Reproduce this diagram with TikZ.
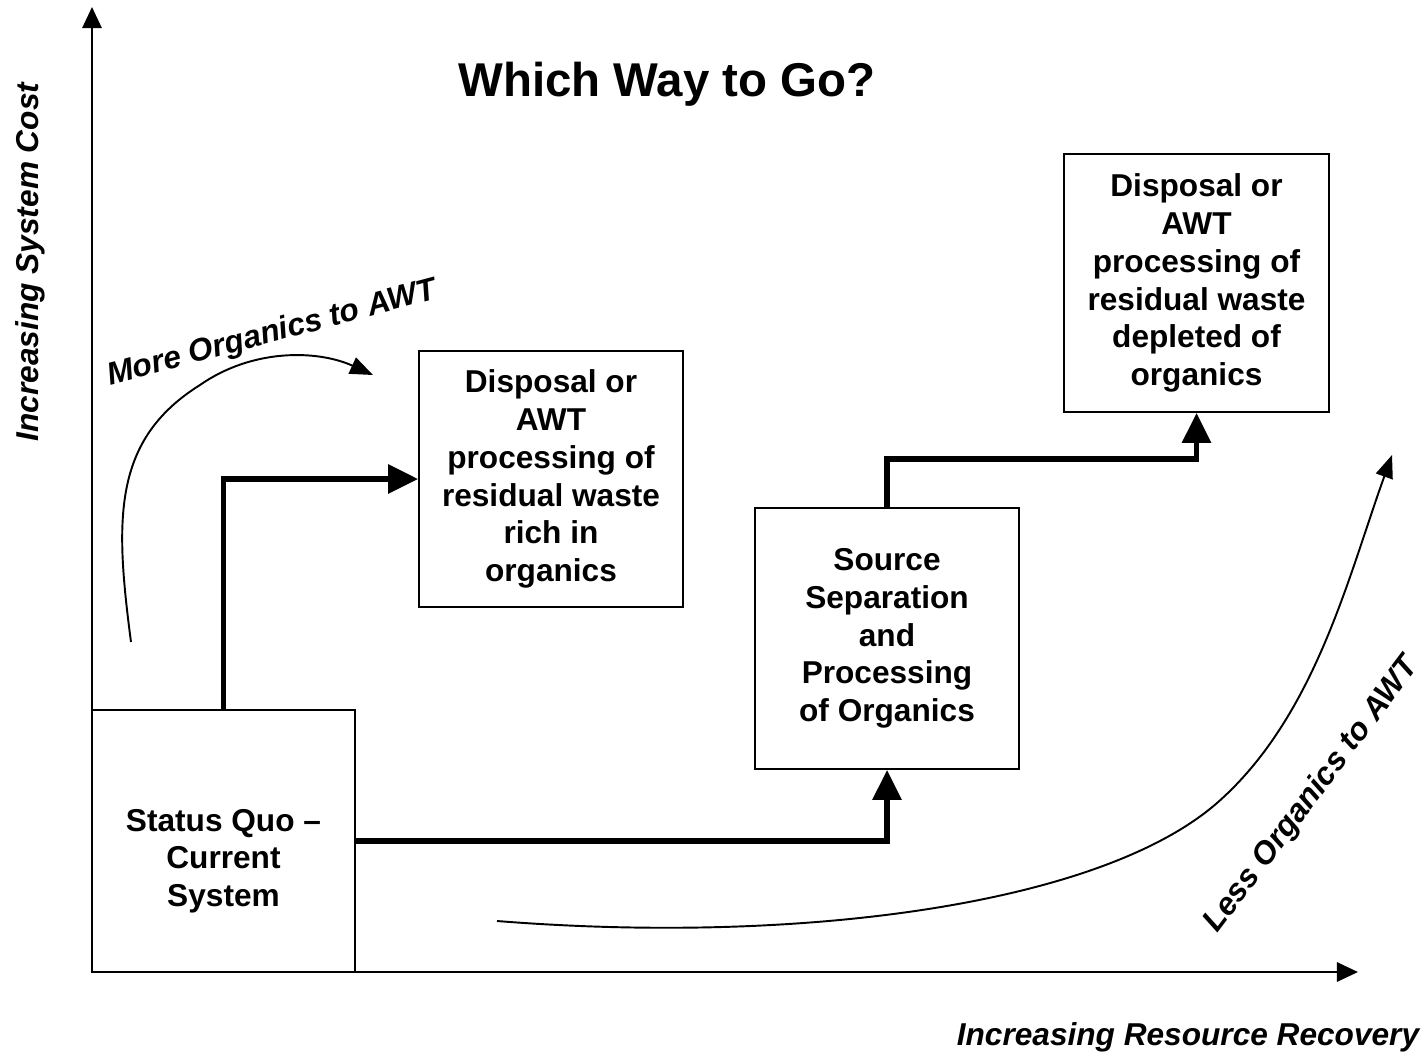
\documentclass[tikz,border=0pt]{standalone}
\usepackage{fontspec}
\setmainfont{Liberation Sans}
\usepackage{tikz}
\usetikzlibrary{arrows.meta}

\begin{document}
\begin{tikzpicture}[x=0.02cm, y=-0.02cm,
    box/.style={draw, line width=1.1pt, align=center, inner sep=0pt,
        font=\fontsize{18}{21.5}\selectfont\bfseries},
    flow/.style={line width=3pt, -{Triangle[length=17pt,width=16pt]}},
    axis/.style={line width=1.1pt, -{Triangle[length=12pt,width=11pt]}},
    trend/.style={line width=1.1pt, -{Triangle[length=13pt,width=10pt]}},
    note/.style={font=\fontsize{18}{21.5}\selectfont\bfseries\itshape}]
    \useasboundingbox (0,0) rectangle (1425,1055);

    % Axes
    \coordinate (origin) at (92,972);
    \coordinate (ytip) at (92,7);
    \coordinate (xtip) at (1358,972);
    \draw[axis] (origin) -- (ytip);
    \draw[axis] (origin) -- (xtip);
    \node[note, rotate=90] (costlabel) at (30,262) {Increasing System Cost};
    \node[note] (recoverylabel) at (1188,1037) {Increasing Resource Recovery};

    % Title
    \node[font=\fontsize{27}{32}\selectfont\bfseries] (title) at (667,84) {Which Way to Go?};

    % Boxes
    \node[box, minimum width=5.26cm, minimum height=5.24cm,
        label={[align=center, font=\fontsize{18}{21.5}\selectfont\bfseries, yshift=-11.5pt]center:Status Quo --\\Current\\System}]
        (quo) at (223.5,841) {};
    \node[box, minimum width=5.28cm, minimum height=5.12cm] (rich) at (551,479)
        {Disposal or\\AWT\\processing of\\residual waste\\rich in\\organics};
    \node[box, minimum width=5.28cm, minimum height=5.22cm] (src) at (887,638.5)
        {Source\\Separation\\and\\Processing\\of Organics};
    \node[box, minimum width=5.3cm, minimum height=5.16cm] (depl) at (1196.5,283)
        {Disposal or\\AWT\\processing of\\residual waste\\depleted of\\organics};

    % Routes
    \draw[flow] (quo.north) |- (rich.west);
    \draw[flow] (quo.east) -| (src.south);
    \draw[flow] (src.north) -- ++(0,-48) -| (depl.south);

    % More organics to AWT
    \coordinate (morestart) at (131,642);
    \coordinate (moreend) at (373,375);
    \draw[trend] (morestart) .. controls (115,520) and (112,440) .. (200,385)
        .. controls (253,348) and (318,350) .. (moreend);
    \node[note, rotate=15] (morelabel) at (272,334) {More Organics to AWT};

    % Less organics to AWT
    \coordinate (lessstart) at (497,921);
    \coordinate (lessend) at (1392,455);
    \draw[trend] (lessstart) .. controls (800,945) and (1100,905) .. (1217,803)
        .. controls (1315,717) and (1348,577) .. (lessend);
    \node[note, rotate=53] (lesslabel) at (1312,795) {Less Organics to AWT};
\end{tikzpicture}
\end{document}
